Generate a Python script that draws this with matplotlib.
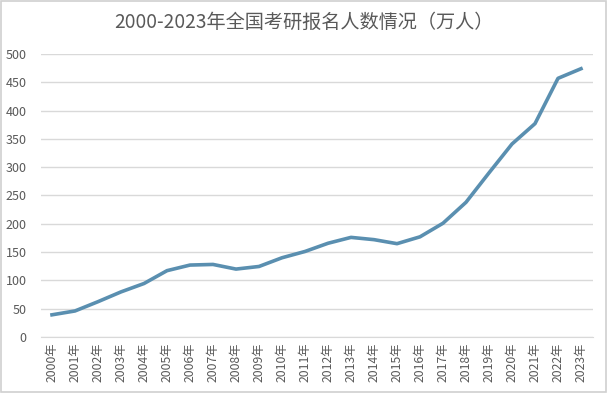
import matplotlib
matplotlib.use("Agg")
import matplotlib.pyplot as plt
from matplotlib.patches import Rectangle

plt.rcParams['font.family'] = ['Noto Sans CJK SC', 'DejaVu Sans']

years = [f"{y}年" for y in range(2000, 2024)]
applicants = [39.2, 46, 62.4, 79.7, 94.5, 117.2, 127.1, 128.2, 120, 124.6,
              140, 151.1, 165.6, 176, 172, 164.9, 177, 201, 238, 290,
              341, 377, 457, 474]
yticks = list(range(0, 501, 50))
title = "2000-2023年全国考研报名人数情况（万人）"

fig = plt.figure(figsize=(6.08, 3.93), dpi=100)
ax = fig.add_axes([40.5/608, 1-337/393, 552/608, (337-54)/393])

x = list(range(len(years)))
ax.plot(x, applicants, color='#5a8fb0', linewidth=2.6, solid_joinstyle='round')
ax.set_xlim(-0.5, len(years)-0.5)
ax.set_ylim(0, 500)
ax.set_yticks(yticks)
ax.set_xticks(x)
ax.set_xticklabels(years, rotation=90, fontsize=8.8, color='#595959')
ax.tick_params(axis='y', labelsize=9, colors='#595959', length=0, pad=10)
ax.tick_params(axis='x', length=0, pad=4)
ax.grid(axis='y', color='#d9d9d9', linewidth=1)
ax.set_axisbelow(True)
for s in ['top', 'right', 'left']:
    ax.spines[s].set_visible(False)
ax.spines['bottom'].set_color('#d9d9d9')

fig.text(0.5, 1-22/393, title, ha='center', va='center', fontsize=13.8, color='#595959')
fig.patches.append(Rectangle((0.002, 0.003), 0.995, 0.994, transform=fig.transFigure,
                             fill=False, edgecolor='#d0d0d0', linewidth=1.2))
fig.savefig('out.png', dpi=100)
